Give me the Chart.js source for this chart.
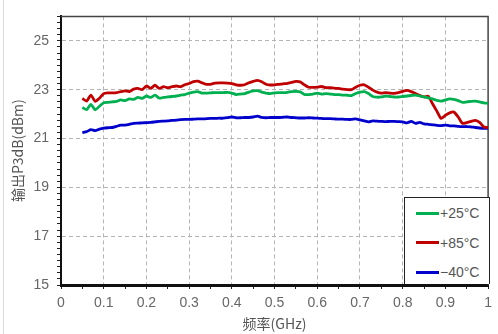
<!DOCTYPE html>
<html>
<head>
<meta charset="utf-8">
<script src="https://cdn.jsdelivr.net/npm/chart.js@4/dist/chart.umd.min.js"></script>
<style>
  body { margin: 0; background: #fff; }
  #wrap { position: relative; width: 498px; height: 334px; }
  #edge { position: absolute; left: 3px; top: 0; width: 1px; height: 334px; background: #dcdcdc; }
  #legend {
    position: absolute; left: 404px; top: 197px; width: 86px; height: 87px;
    border: 1px solid #222; border-bottom: none; background: #fff; box-sizing: border-box;
    font: 14px "Liberation Sans", Arial, sans-serif; color: #555;
  }
  #legend .item { position: absolute; left: 11px; height: 16px; line-height: 16px; white-space: nowrap; }
  #legend .swatch { display: inline-block; width: 23px; height: 3px; vertical-align: middle; margin-right: 1px; position: relative; top: -1px; }
</style>
</head>
<body>
<div id="wrap">
  <div id="edge"></div>
  <canvas id="chart" width="498" height="334"></canvas>
  <div id="legend"></div>
</div>
<script>
'use strict';

// 频率 (GHz)
const freq = [
  0.05, 0.06, 0.07, 0.08, 0.09, 0.10, 0.11, 0.12, 0.13, 0.14, 0.15, 0.16, 0.17, 0.18, 0.19, 0.20,
  0.21, 0.22, 0.23, 0.24, 0.25, 0.26, 0.27, 0.28, 0.29, 0.30, 0.31, 0.32, 0.33, 0.34, 0.35, 0.36,
  0.37, 0.38, 0.39, 0.40, 0.41, 0.42, 0.43, 0.44, 0.45, 0.46, 0.47, 0.48, 0.49, 0.50, 0.51, 0.52,
  0.53, 0.54, 0.55, 0.56, 0.57, 0.58, 0.59, 0.60, 0.61, 0.62, 0.63, 0.64, 0.65, 0.66, 0.67, 0.68,
  0.69, 0.70, 0.71, 0.72, 0.73, 0.74, 0.75, 0.76, 0.77, 0.78, 0.79, 0.80, 0.81, 0.82, 0.83, 0.84,
  0.85, 0.86, 0.87, 0.88, 0.89, 0.90, 0.91, 0.92, 0.93, 0.94, 0.95, 0.96, 0.97, 0.98, 0.99, 1.00
];

// 输出P3dB (dBm)
const p25 = [
  22.27, 22.18, 22.40, 22.17, 22.32, 22.46, 22.48, 22.50, 22.52, 22.58, 22.55, 22.62, 22.60, 22.68, 22.64, 22.74,
  22.68, 22.78, 22.65, 22.68, 22.70, 22.72, 22.74, 22.78, 22.80, 22.86, 22.90, 22.92, 22.86, 22.86, 22.87, 22.88,
  22.88, 22.88, 22.89, 22.86, 22.80, 22.82, 22.84, 22.90, 22.95, 22.96, 22.90, 22.86, 22.84, 22.87, 22.88, 22.88,
  22.89, 22.92, 22.93, 22.91, 22.80, 22.80, 22.82, 22.86, 22.82, 22.84, 22.82, 22.80, 22.80, 22.78, 22.77, 22.76,
  22.84, 22.90, 22.92, 22.84, 22.72, 22.69, 22.70, 22.74, 22.72, 22.70, 22.70, 22.72, 22.74, 22.76, 22.78, 22.74,
  22.70, 22.66, 22.62, 22.56, 22.53, 22.58, 22.62, 22.60, 22.55, 22.48, 22.50, 22.52, 22.53, 22.50, 22.46, 22.44
];
const p85 = [
  22.64, 22.53, 22.78, 22.52, 22.65, 22.84, 22.87, 22.87, 22.88, 22.92, 22.95, 22.92, 23.02, 23.05, 23.00, 23.15,
  23.05, 23.18, 23.05, 23.12, 23.08, 23.12, 23.15, 23.12, 23.20, 23.25, 23.33, 23.35, 23.28, 23.22, 23.22, 23.27,
  23.28, 23.28, 23.27, 23.25, 23.20, 23.18, 23.20, 23.28, 23.34, 23.38, 23.32, 23.22, 23.19, 23.20, 23.22, 23.24,
  23.26, 23.30, 23.34, 23.32, 23.20, 23.10, 23.09, 23.10, 23.13, 23.08, 23.08, 23.06, 23.05, 23.02, 23.00, 23.00,
  23.10, 23.18, 23.20, 23.10, 22.98, 22.90, 22.86, 22.88, 22.86, 22.85, 22.88, 22.93, 22.97, 22.92, 22.84, 22.76,
  22.70, 22.73, 22.42, 22.12, 21.82, 21.95, 22.05, 22.08, 21.88, 21.62, 21.65, 21.70, 21.74, 21.66, 21.47, 21.45
];
const pm40 = [
  21.24, 21.28, 21.36, 21.32, 21.38, 21.42, 21.44, 21.45, 21.50, 21.55, 21.55, 21.58, 21.62, 21.63, 21.64, 21.65,
  21.66, 21.68, 21.70, 21.71, 21.72, 21.74, 21.75, 21.77, 21.78, 21.78, 21.79, 21.80, 21.80, 21.81, 21.82, 21.82,
  21.83, 21.83, 21.85, 21.88, 21.85, 21.85, 21.86, 21.86, 21.88, 21.92, 21.86, 21.85, 21.86, 21.86, 21.86, 21.87,
  21.88, 21.86, 21.85, 21.84, 21.84, 21.85, 21.84, 21.83, 21.82, 21.81, 21.81, 21.80, 21.79, 21.79, 21.78, 21.78,
  21.80, 21.76, 21.72, 21.68, 21.72, 21.71, 21.70, 21.69, 21.70, 21.70, 21.69, 21.68, 21.64, 21.70, 21.62, 21.66,
  21.60, 21.58, 21.56, 21.54, 21.53, 21.55, 21.52, 21.52, 21.50, 21.49, 21.49, 21.48, 21.45, 21.43, 21.42, 21.42
];

const seriesLabels = ['+25°C', '+85°C', '−40°C'];
const seriesColors = ['#00b050', '#c00000', '#0000cc'];
const seriesValues = [p25, p85, pm40];

const yMajor = [17, 19, 21, 23, 25];
const xMajor = [0.1, 0.2, 0.3, 0.4, 0.5, 0.6, 0.7, 0.8, 0.9];

const tickFont = { family: '"Liberation Sans", Arial, sans-serif', size: 14 };
const titleFont = { family: '"Noto Sans CJK SC", sans-serif', size: 14 };

// 上边框和右边框
const frame = {
  id: 'frame',
  beforeDatasetsDraw(chart) {
    const a = chart.chartArea, ctx = chart.ctx;
    ctx.save();
    ctx.strokeStyle = '#444';
    ctx.lineWidth = 1.5;
    ctx.beginPath();
    ctx.moveTo(a.left, a.top);
    ctx.lineTo(a.right, a.top);
    ctx.lineTo(a.right, a.bottom);
    ctx.stroke();
    ctx.restore();
  }
};

const isMajorX = v => xMajor.some(m => Math.abs(m - v) < 1e-6);
const isMajorY = v => yMajor.includes(v);

new Chart(document.getElementById('chart'), {
  type: 'line',
  plugins: [frame],
  data: {
    datasets: seriesValues.map((vals, i) => ({
      label: seriesLabels[i],
      data: freq.map((f, j) => ({ x: f, y: vals[j] })),
      borderColor: seriesColors[i],
      borderWidth: 2.8,
      pointRadius: 0,
      tension: 0.2,
      fill: false
    }))
  },
  options: {
    responsive: false,
    animation: false,
    layout: { padding: { left: 0, right: 7, top: 12, bottom: 0 } },
    plugins: { legend: { display: false }, tooltip: { enabled: false } },
    scales: {
      x: {
        type: 'linear', min: 0, max: 1,
        afterFit: s => { s.height = 49; },
        ticks: {
          stepSize: 0.05, autoSkip: false, maxRotation: 0, padding: 6,
          color: '#666', font: tickFont,
          callback: v => {
            const r = Math.round(v * 100);
            if (r % 10 !== 0) return '';
            return r === 0 ? '0' : r === 100 ? '1' : (r / 100).toFixed(1);
          }
        },
        grid: {
          color: c => (c.tick && isMajorX(c.tick.value)) ? '#b4b4b4' : 'rgba(0,0,0,0)',
          tickColor: '#222', tickLength: 4, lineWidth: 1
        },
        border: { color: '#111', width: 3, dash: [4, 3] },
        title: { display: true, text: '频率(GHz)', color: '#555', font: titleFont, padding: { top: 0, bottom: 2 } }
      },
      y: {
        min: 15, max: 26,
        afterFit: s => { s.width = 61; },
        ticks: {
          stepSize: 0.25, autoSkip: false, maxTicksLimit: 100, padding: 8,
          color: '#666', font: tickFont,
          callback: v => (Number.isInteger(v) && v % 2 === 1) ? String(v) : ''
        },
        grid: {
          color: c => (c.tick && isMajorY(c.tick.value)) ? '#b4b4b4' : 'rgba(0,0,0,0)',
          tickColor: '#222', tickLength: 4, lineWidth: 1
        },
        border: { color: '#111', width: 2, dash: [4, 3] },
        title: { display: true, text: '输出P3dB(dBm)', color: '#555', font: titleFont, padding: { top: 9, bottom: 0 } }
      }
    }
  }
});

// 图例
const legend = document.getElementById('legend');
seriesLabels.forEach((label, i) => {
  const item = document.createElement('div');
  item.className = 'item';
  item.style.top = (7 + i * 29.5) + 'px';
  const sw = document.createElement('span');
  sw.className = 'swatch';
  sw.style.background = seriesColors[i];
  item.appendChild(sw);
  item.appendChild(document.createTextNode(label));
  legend.appendChild(item);
});
</script>
</body>
</html>
